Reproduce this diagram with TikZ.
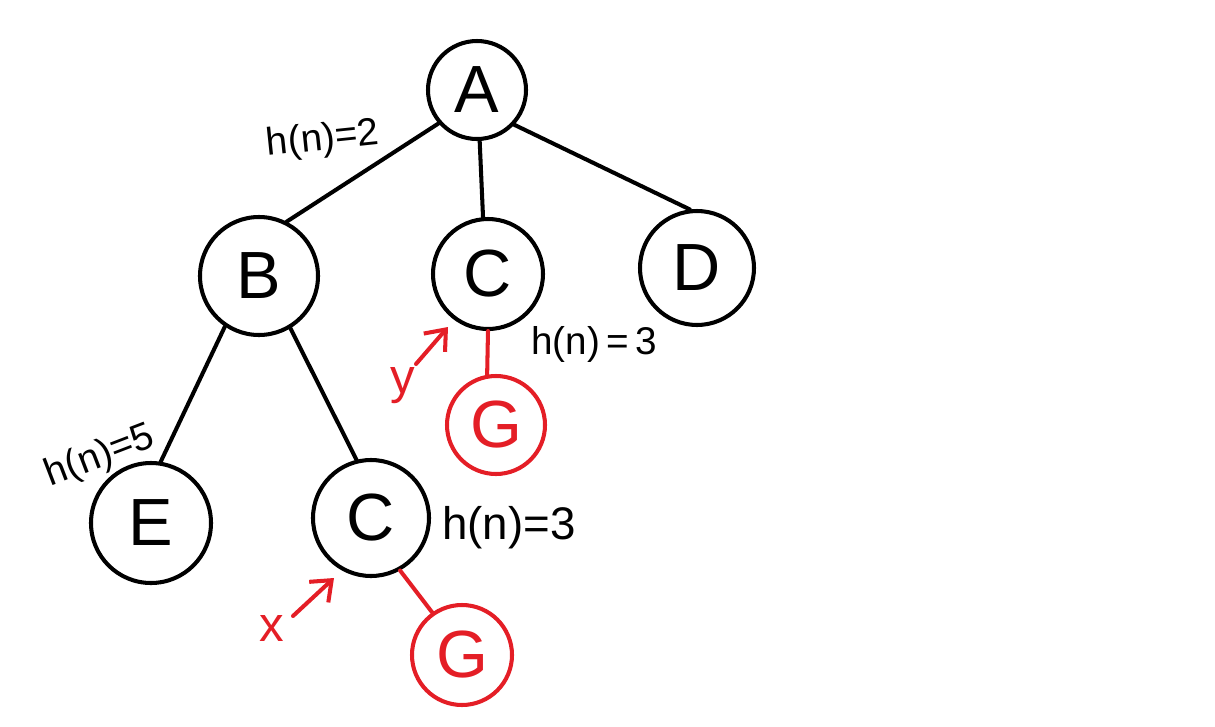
\documentclass[tikz,border=0pt]{standalone}
\usepackage{fontspec}
\setmainfont{Liberation Sans}
\usetikzlibrary{arrows.meta}
\definecolor{penred}{RGB}{228,30,38}
\tikzset{
  ink/.style={line width=2.3pt, line cap=round, line join=round},
  treenode/.style={circle, draw, ink, inner sep=0pt, font=\fontsize{38}{40}\selectfont},
  goalnode/.style={treenode, draw=penred, text=penred},
  hlabel/.style={font=\fontsize{22}{26}\selectfont},
  redlabel/.style={font=\fontsize{28}{30}\selectfont, text=penred},
  pointer/.style={ink, draw=penred, -{Straight Barb[length=10pt,width=16pt,line width=2.3pt]}}
}
\begin{document}
\begin{tikzpicture}[x=0.02cm,y=-0.02cm]
  \useasboundingbox (0,0) rectangle (1215,727);

  % tree nodes
  \node[treenode, minimum size=98*0.02cm]  (A)  at (477,90)  {A};
  \node[treenode, minimum size=118*0.02cm] (B)  at (259,276) {B};
  \node[treenode, minimum size=110*0.02cm] (C1) at (488,274) {C};
  \node[treenode, minimum size=114*0.02cm] (D)  at (697,268) {D};
  \node[treenode, minimum size=120*0.02cm] (E)  at (151,523) {E};
  \node[treenode, minimum size=116*0.02cm] (C2) at (371,518) {C};
  \node[goalnode, minimum size=98*0.02cm]  (G1) at (496,425) {G};
  \node[goalnode, minimum size=100*0.02cm] (G2) at (462,655) {G};

  % edges
  \draw[ink] (A.221) -- (B.63);
  \draw[ink] (A.-87) -- (C1.95);
  \draw[ink] (A.-43) -- (D.97);
  \draw[ink] (B.-124) -- (E.81);
  \draw[ink] (B.-59) -- (C2.104);
  \draw[ink, draw=penred] (C1.-90) -- (G1.100);
  \draw[ink, draw=penred] (C2.-61) -- (G2.125);

  % heuristic values
  \node[hlabel, rotate=6]  (h2)  at (323,140) {h(n)=2};
  \node[hlabel, rotate=21] (h5)  at (100,457) {h(n)=5};
  \node[hlabel]            (h3a) at (594,344) {h(n)\,=\,3};
  \node[hlabel, font=\fontsize{26}{30}\selectfont] (h3b) at (509,528) {h(n)=3};

  % pointers to the two C nodes
  \node[redlabel] (y) at (403,386) {y};
  \coordinate (ytail) at (416,364);
  \coordinate (yhead) at (448,327);
  \draw[pointer] (ytail) -- (yhead);

  \node[redlabel] (x) at (272,628) {x};
  \coordinate (xtail) at (293,616);
  \coordinate (xhead) at (334,578);
  \draw[pointer] (xtail) -- (xhead);
\end{tikzpicture}
\end{document}
